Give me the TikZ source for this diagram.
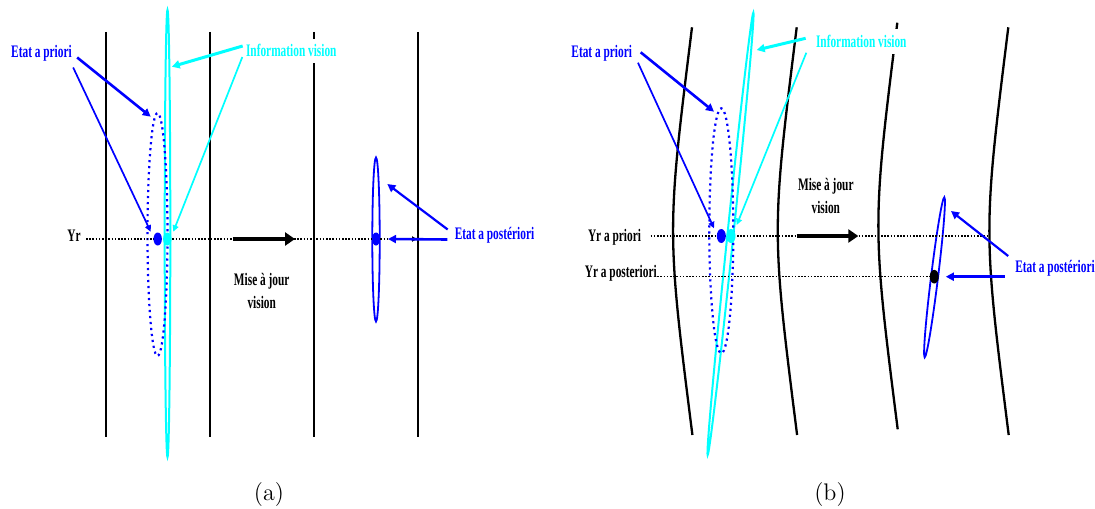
\documentclass[tikz,border=0pt]{standalone}
\usepackage{fontspec}
\usetikzlibrary{arrows.meta}
\newfontfamily\lblfont[FakeStretch=0.645]{Liberation Serif}
\definecolor{estblue}{RGB}{0,0,255}
\definecolor{viscyan}{RGB}{0,255,255}
\tikzset{
  lbl/.style={font=\lblfont\bfseries\fontsize{8.8}{11.2}\selectfont, inner sep=3pt, anchor=base},
  road/.style={line width=1.15pt},
  yrline/.style={line width=0.6pt, dash pattern=on 0.8pt off 0.8pt},
  prior/.style={estblue, line width=1.1pt, dash pattern=on 1.1pt off 1.9pt},
  vis/.style={viscyan, line width=1pt},
  post/.style={estblue, line width=0.9pt},
  bigptr/.style={-{Triangle[length=4pt,width=4pt]}, line width=1.3pt},
  smallptr/.style={-{Triangle[length=3.2pt,width=3pt]}, line width=0.85pt},
  update/.style={-{Triangle[length=5pt,width=6.5pt]}, line width=1.7pt}
}
\begin{document}
\begin{tikzpicture}[x=0.5pt,y=-0.5pt]
  \useasboundingbox (0,0) rectangle (1095,508);
  % (a)
  \foreach \xr in {105.7,210,314,418}
    \draw[road] (\xr,32)--(\xr,437);
  \draw[vis] (167.5,233.5) ellipse [x radius=2.8, y radius=223.5];
  \draw[prior] (157.5,234.5) ellipse [x radius=10, y radius=121.5];
  \draw[post] (376,239.5) ellipse [x radius=3.7, y radius=82];
  \node[lbl] (yra) at (74,241.7) {Yr};
  \coordinate (yraEnd) at (418,239);
  \draw[yrline,-{Latex[length=3pt,width=3pt]}] ([shift={(-1,-2.7)}]yra.base east)--(yraEnd);
  \coordinate (dotPriA) at (157.7,239);
  \coordinate (dotVisA) at (167.3,239);
  \coordinate (dotPostA) at (376,239);
  \fill[estblue] (dotPriA) ellipse [x radius=4.2, y radius=6.5];
  \fill[viscyan] (dotVisA) ellipse [x radius=4.2, y radius=6.5];
  \fill[estblue] (dotPostA) ellipse [x radius=4, y radius=6.5];
  \coordinate (updA1) at (232.7,239);
  \coordinate (updA2) at (295,239);
  \draw[update] (updA1)--(updA2);
  \node[lbl, anchor=center, align=center] (maja) at (261.7,291) {Mise à jour\\vision};
  \node[lbl, estblue] (pra) at (41.5,57.5) {Etat a priori};
  \node[lbl, viscyan, fill=white] (via) at (291.3,57) {Information vision};
  \node[lbl, estblue] (psa) at (494.5,239.5) {Etat a postériori};
  \coordinate (priTopA) at (150.7,116.7);
  \coordinate (priMidA) at (150.7,231.7);
  \coordinate (visTopA) at (171.7,66.7);
  \coordinate (visMidA) at (173.3,231.7);
  \coordinate (postTopA) at (387.3,184);
  \coordinate (postMidA) at (388,239);
  \draw[bigptr, estblue] ([shift={(-1,0)}]pra.base east)--(priTopA);
  \draw[smallptr, estblue] ([shift={(-5,10)}]pra.base east)--(priMidA);
  \draw[bigptr, viscyan, line width=1.5pt] ([shift={(3,-11)}]via.base west)--(visTopA);
  \draw[smallptr, viscyan] ([shift={(2.7,0)}]via.base west)--(visMidA);
  \draw[bigptr, estblue, line width=1.1pt] ([shift={(-0.7,-10)}]psa.base west)--(postTopA);
  \draw[bigptr, estblue] ([shift={(-1,0)}]psa.base west)--(postMidA);
  \node[anchor=base, font=\fontsize{12}{14}\selectfont] (capa) at (269,500) {(a)};
  % (b)
  \foreach \xt/\yt/\yb in {692/27.3/435,796.7/27.3/435,897.3/22.7/429.3,1008.3/27.3/435}
    \draw[road] (\xt,\yt) .. controls (\xt-25.3,{(\yt+\yb)/2}) .. (\xt+0.4,\yb);
  \draw[vis, rotate around={-5.9:(730.5,233.8)}] (730.5,233.8) ellipse [x radius=3, y radius=222.3];
  \draw[prior] (721.3,230.8) ellipse [x radius=12, y radius=122.5];
  \draw[post, rotate around={-7:(934.5,277.3)}] (934.5,277.3) ellipse [x radius=3.5, y radius=80.6];
  \node[lbl] (yrb) at (614.5,241.7) {Yr a priori};
  \node[lbl] (yrpb) at (620.8,277.7) {Yr a posteriori};
  \coordinate (yrbEnd) at (988,236);
  \coordinate (dotPriB) at (721.3,236);
  \coordinate (dotVisB) at (731,236);
  \coordinate (dotPostB) at (934.2,276.7);
  \draw[yrline] ([shift={(3.3,-5.7)}]yrb.base east)--(yrbEnd);
  \draw[yrline] ([shift={(-6,-1)}]yrpb.base east)--(dotPostB);
  \fill[estblue] (dotPriB) ellipse [x radius=4.5, y radius=7];
  \fill[viscyan] (dotVisB) ellipse [x radius=4.5, y radius=7];
  \fill[black] (dotPostB) ellipse [x radius=4.5, y radius=6.8];
  \coordinate (updB1) at (796.7,236);
  \coordinate (updB2) at (858.3,236);
  \draw[update] (updB1)--(updB2);
  \node[lbl, anchor=center, align=center] (majb) at (825.8,196) {Mise à jour\\vision};
  \node[lbl, estblue] (prb) at (601.7,58) {Etat a priori};
  \node[lbl, viscyan, fill=white] (vib) at (861.3,47.7) {Information vision};
  \node[lbl, estblue] (psb) at (1055,272.4) {Etat a postériori};
  \coordinate (priTopB) at (714,111.7);
  \coordinate (priMidB) at (714,228.3);
  \coordinate (visTopB) at (756.7,50);
  \coordinate (visMidB) at (736.7,225);
  \coordinate (postTopB) at (951,211);
  \coordinate (postMidB) at (945.8,276.7);
  \draw[bigptr, estblue] ([shift={(2.3,-5.7)}]prb.base east)--(priTopB);
  \draw[smallptr, estblue] ([shift={(-0.4,4.7)}]prb.base east)--(priMidB);
  \draw[bigptr, viscyan, line width=1.5pt] ([shift={(-4,-9.4)}]vib.base west)--(visTopB);
  \draw[smallptr, viscyan] ([shift={(-3.3,5)}]vib.base west)--(visMidB);
  \draw[bigptr, estblue, line width=1.1pt] ([shift={(-0.7,-16.4)}]psb.base west)--(postTopB);
  \draw[bigptr, estblue, line width=1.5pt] ([shift={(-4.3,4.3)}]psb.base west)--(postMidB);
  \node[anchor=base, font=\fontsize{12}{14}\selectfont] (capb) at (830,500) {(b)};
\end{tikzpicture}
\end{document}
